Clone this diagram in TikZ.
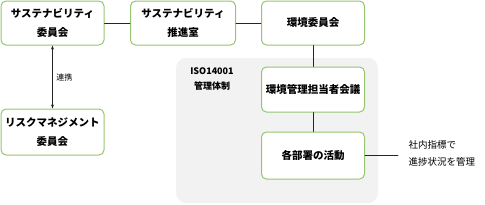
\documentclass[tikz,border=0pt]{standalone}
\usepackage{fontspec}
\setmainfont{Noto Sans CJK JP}
\usepackage{tikz}
\usetikzlibrary{arrows.meta}
\definecolor{boxgreen}{RGB}{150,198,112}
\definecolor{panelgray}{RGB}{242,242,242}
\tikzset{
  orgbox/.style={draw=boxgreen,line width=1pt,fill=white,rounded corners=5pt,
    minimum width=103pt,align=center,font=\fontsize{10.5}{19}\selectfont\bfseries},
  link/.style={line width=0.9pt,draw=black!85}
}

\begin{document}
\begin{tikzpicture}[x=1pt,y=-1pt,>={Stealth[length=4pt,width=3pt]},line cap=round,line join=round]
  \useasboundingbox (0,0) rectangle (485,204);
  % panel
  \fill[panelgray,rounded corners=10pt] (176,58) rectangle (378,203);
  \node[font=\fontsize{9}{15}\selectfont\bfseries,align=center] (iso) at (212,79.5) {ISO14001\\管理体制};

  % boxes
  \node[orgbox,minimum height=44pt] (sus) at (52.5,23) {サステナビリティ\\委員会};
  \node[orgbox,minimum height=44pt,minimum width=105pt] (promo) at (183,23) {サステナビリティ\\推進室};
  \node[orgbox,minimum height=44pt] (env) at (313,23) {環境委員会};
  \node[orgbox,minimum height=46pt] (risk) at (52.5,132) {リスクマネジメント\\委員会};
  \node[orgbox,minimum height=45pt] (mgr) at (313,89.5) {環境管理担当者会議};
  \node[orgbox,minimum height=47pt] (dept) at (313,155.5) {各部署の活動};

  % connectors
  \draw[link] (sus) -- (promo);
  \draw[link] (promo) -- (env);
  \draw[link] (env) -- (mgr);
  \draw[link] (mgr) -- (dept);
  \draw[link,<->] (sus) -- node[right,font=\fontsize{8}{10}\selectfont] {連携} (risk);
  \coordinate (tip) at (398,155.5);
  \draw[link] (dept) -- (tip);
  \node[anchor=west,align=left,font=\fontsize{9.5}{17}\selectfont] (note) at (405,153.5) {社内指標で\\進捗状況を管理};
\end{tikzpicture}
\end{document}
